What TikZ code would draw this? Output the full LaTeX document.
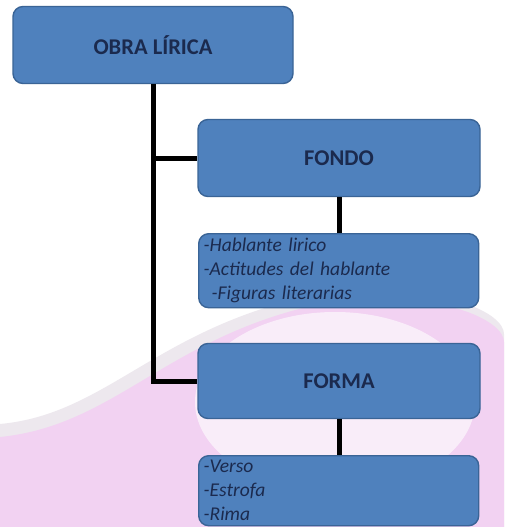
\documentclass[tikz,border=0pt]{standalone}
\usepackage{fontspec}
\setmainfont{Carlito}
\usetikzlibrary{calc,positioning}
\definecolor{boxbg}{HTML}{4F81BD}
\definecolor{boxborder}{HTML}{3A6496}
\definecolor{boxtext}{HTML}{1B2A4E}
\definecolor{wallpink}{HTML}{F2D2F2}
\definecolor{wallgray}{HTML}{EDE8EE}

\begin{document}
\begin{tikzpicture}[
  x=1pt, y=-1pt,
  headbox/.style={rectangle, draw=boxborder, fill=boxbg, line width=1.4pt, rounded corners=10pt,
    text=boxtext, font=\fontsize{22.5}{26}\selectfont\bfseries, inner sep=0pt},
  listbox/.style={rectangle, draw=boxborder, fill=boxbg, line width=1.4pt, rounded corners=10pt,
    text=boxtext, font=\fontsize{19.5}{24}\selectfont\itshape, align=left, anchor=north west,
    inner xsep=5pt, inner ysep=0pt},
  link/.style={draw=black, line width=5pt}
]

  % Page and background swirl
  \useasboundingbox (0,0) rectangle (504,527);
  \fill[white] (0,0) rectangle (504,527);
  \fill[wallgray] (0,424) .. controls (110,414) and (160,322) .. (330,292)
    .. controls (450,284) and (504,314) .. (504,334) -- (504,527) -- (0,527) -- cycle;
  \fill[wallpink] (0,437) .. controls (120,425) and (170,330) .. (340,300)
    .. controls (450,292) and (504,322) .. (504,342) -- (504,527) -- (0,527) -- cycle;
  \fill[white, opacity=0.6] (335,402) ellipse [x radius=140, y radius=90];

  % Boxes
  \node[headbox, minimum width=280pt, minimum height=77pt] (obra) at (153,45) {OBRA LÍRICA};
  \node[headbox, minimum width=282pt, minimum height=77pt] (fondo) at (339,158) {FONDO};
  \node[listbox, text width=270pt, minimum height=74pt] (fondolist) at (198,233)
    {-Hablante lirico\\-Actitudes del hablante\\\hspace{8pt}-Figuras literarias};
  \node[headbox, minimum width=282pt, minimum height=75pt] (forma) at (339,381) {FORMA};
  \node[listbox, text width=270pt, minimum height=70pt] (formalist) at (198,455)
    {-Verso\\-Estrofa\\-Rima};

  % Connectors
  \draw[link] (obra.south) |- (forma.west);
  \draw[link] (obra.south |- fondo.west) -- (fondo.west);
  \draw[link] (fondo.south) -- (fondolist.north -| fondo.south);
  \draw[link] (forma.south) -- (formalist.north -| forma.south);

\end{tikzpicture}
\end{document}
